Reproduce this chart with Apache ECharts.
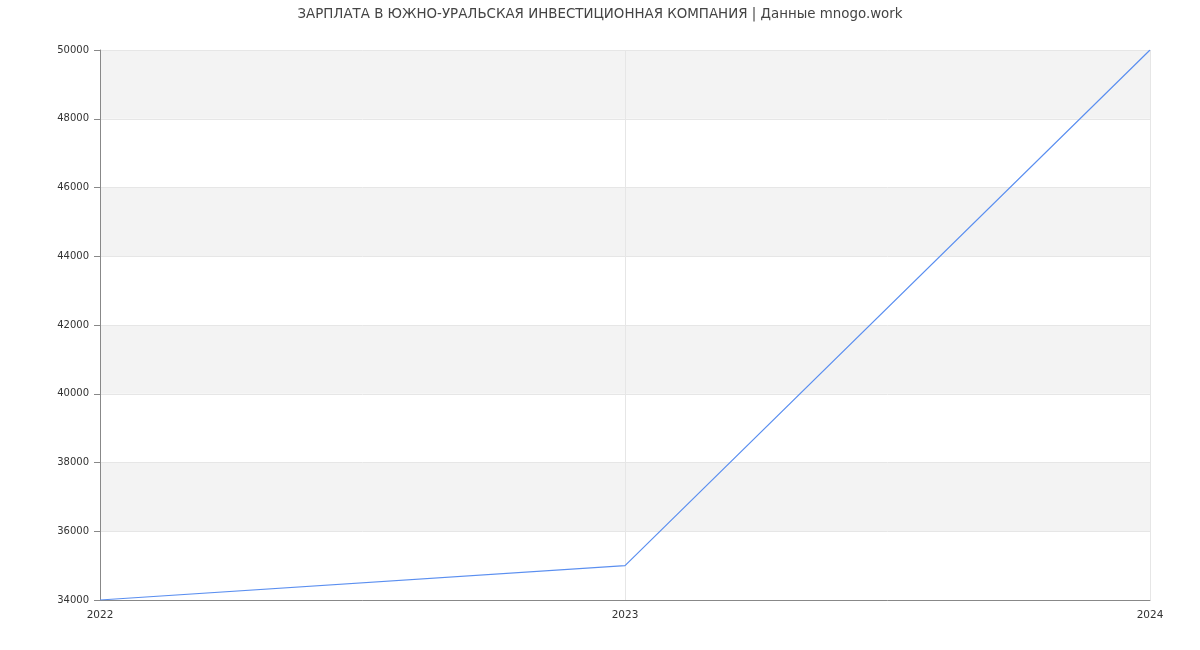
<!DOCTYPE html>
<html><head><meta charset="utf-8">
<script src="https://cdn.jsdelivr.net/npm/echarts@6/dist/echarts.min.js"></script>
<style>html,body{margin:0;padding:0;background:#fff}#c{width:1200px;height:650px}</style>
</head><body><div id="c"></div>
<script>
const titleText = 'ЗАРПЛАТА В ЮЖНО-УРАЛЬСКАЯ ИНВЕСТИЦИОННАЯ КОМПАНИЯ | Данные mnogo.work';
const years = ['2022', '2023', '2024'];
const salary = [34000, 35000, 50000];

const chart = echarts.init(document.getElementById('c'));
chart.setOption({
  animation: false,
  textStyle: {fontFamily: 'DejaVu Sans'},
  title: {text: titleText, left: 'center', top: 3,
    textStyle: {fontSize: 13.4, fontWeight: 'normal', color: '#444', fontFamily: 'DejaVu Sans'}},
  grid: {left: 100, right: 50, top: 50, bottom: 50, containLabel: false},
  xAxis: {type: 'category', data: years, boundaryGap: false,
    axisLine: {lineStyle: {color: '#888'}},
    axisTick: {show: false},
    axisLabel: {color: '#333', fontSize: 10.5, margin: 10, fontFamily: 'DejaVu Sans'},
    splitLine: {show: true, lineStyle: {color: '#e6e6e6'}}},
  yAxis: {type: 'value', min: 34000, max: 50000, interval: 2000,
    axisLine: {show: true, lineStyle: {color: '#888'}},
    axisTick: {show: true, length: 6, lineStyle: {color: '#888'}},
    axisLabel: {color: '#333', fontSize: 10, margin: 11, fontFamily: 'DejaVu Sans',
      formatter: v => String(v)},
    splitLine: {show: true, lineStyle: {color: '#e6e6e6'}},
    splitArea: {show: true, areaStyle: {color: ['#ffffff', '#f3f3f3']}}},
  series: [{type: 'line', data: salary, symbol: 'none',
    lineStyle: {color: '#5b8ff0', width: 1.2}}]
});
</script></body></html>
